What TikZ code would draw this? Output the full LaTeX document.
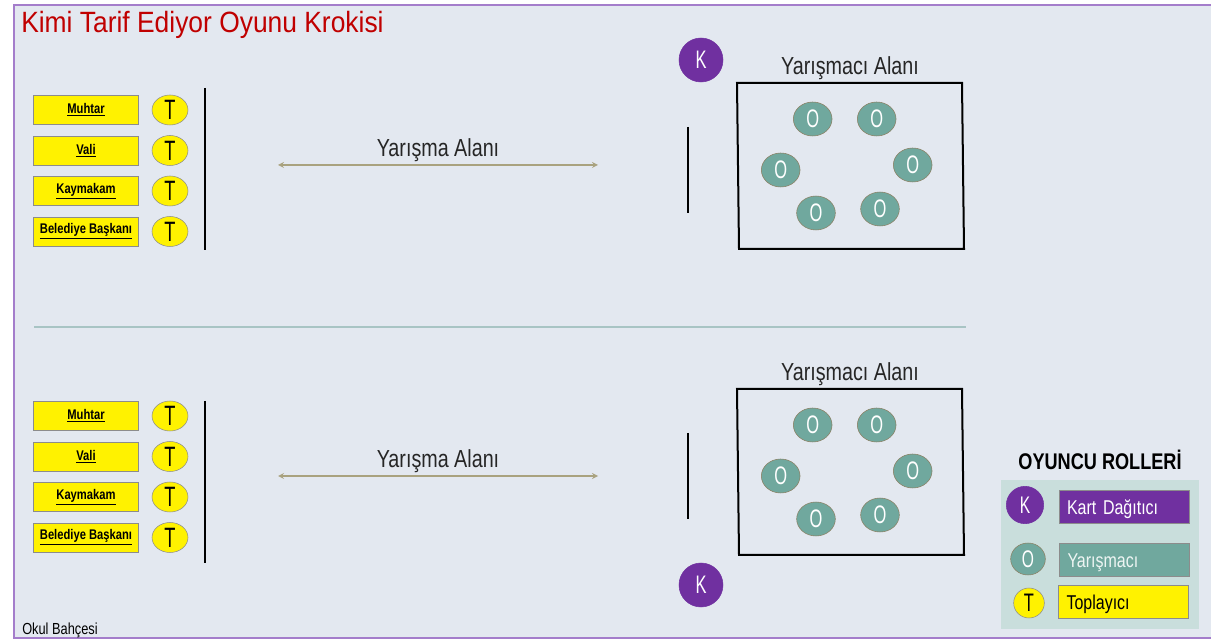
\documentclass[tikz,border=0pt]{standalone}
\usepackage{fontspec}
\setmainfont{Liberation Sans}
\newfontfamily\condfont{Liberation Sans}[FakeStretch=0.8]
\newfontfamily\markfont{Liberation Sans}[FakeStretch=0.65]
\newfontfamily\titlefont{Liberation Sans}[FakeStretch=0.9]
\usetikzlibrary{shapes.geometric}
\definecolor{bgblue}{HTML}{E3E8F0}
\definecolor{framepurple}{HTML}{A47DCB}
\definecolor{titlered}{HTML}{C00000}
\definecolor{kpurple}{HTML}{7030A0}
\definecolor{oteal}{HTML}{70A89E}
\definecolor{oborder}{HTML}{8A7F62}
\definecolor{boxgray}{HTML}{8C8C8C}
\definecolor{arrowtan}{HTML}{A9A27F}
\definecolor{sepline}{HTML}{A8C4C4}
\definecolor{legendbg}{HTML}{C9DEDC}
\definecolor{darktext}{HTML}{262626}

\begin{document}
\begin{tikzpicture}[x=0.75pt,y=-0.75pt]
  \tikzset{%
    role box/.style={draw=boxgray,fill=yellow,inner sep=0pt,
      minimum width=79pt,minimum height=22pt,
      font=\condfont\bfseries\fontsize{10.5}{11}\selectfont},
    t mark/.style={ellipse,draw=boxgray,fill=yellow,inner sep=0pt,
      minimum width=27pt,minimum height=22.5pt,
      font=\markfont\fontsize{21}{21}\selectfont},
    o mark/.style={ellipse,draw=oborder,fill=oteal,text=white,inner sep=0pt,
      minimum width=29pt,minimum height=25.5pt,
      font=\markfont\fontsize{19}{19}\selectfont},
    k mark/.style={circle,draw=kpurple,fill=kpurple,text=white,inner sep=0pt,
      minimum size=33pt,font=\markfont\fontsize{19}{19}\selectfont},
    wall/.style={line width=1.5pt,black},
    area label/.style={anchor=base,inner sep=0pt,text=darktext,
      font=\condfont\fontsize{18.5}{19}\selectfont},
    legend box/.style={draw=boxgray,inner xsep=6pt,inner ysep=0pt,
      text width=85.5pt,text height=12.5pt,text depth=0pt,
      minimum height=24.75pt,align=left,
      font=\condfont\fontsize{15}{16}\selectfont}
  }
  % background and frame
  \useasboundingbox (0,0) rectangle (1211,641);
  \fill[bgblue] (14,5) rectangle (1211,638);
  \draw[framepurple,line width=1.2pt] (1211,5) -- (14,5) -- (14,638) -- (1211,638);

  \node[anchor=base west,inner sep=0pt,text=titlered,
    font=\titlefont\fontsize{22}{23}\selectfont] (title) at (21,33)
    {Kimi Tarif Ediyor Oyunu Krokisi};

  % upper and lower field
  \foreach \off/\tag/\lsh/\ash in {0/a/0/0, 306/b/7/5}{
    \foreach \lbl [count=\i] in {Muhtar,Vali,Kaymakam,Belediye Başkanı}{
      \node[role box] (role-\tag-\i) at (86,{\off+110+40.5*(\i-1)}) {\underline{\lbl}};
      \node[t mark] (tmark-\tag-\i) at (170,{\off+110+40.5*(\i-1)}) {T};
    }
    \coordinate (wallL-top-\tag) at (205,{\off+88+\lsh});
    \coordinate (wallL-bot-\tag) at (205,{\off+250+\lsh});
    \draw[wall] (wallL-top-\tag) -- (wallL-bot-\tag);

    \coordinate (arrL-\tag) at (278,{\off+165+\ash});
    \coordinate (arrR-\tag) at (598,{\off+165+\ash});
    \draw[arrowtan,line width=1pt,<->,>=stealth] (arrL-\tag) -- (arrR-\tag);
    \node[area label] (yarisma-\tag) at (438,{\off+157+\ash}) {Yarışma Alanı};

    \coordinate (wallR-top-\tag) at (688,{\off+127});
    \coordinate (wallR-bot-\tag) at (688,{\off+213});
    \draw[wall] (wallR-top-\tag) -- (wallR-bot-\tag);

    \draw[line width=1.5pt] (737,{\off+83}) -- (962,{\off+83})
      -- (964,{\off+249}) -- (739,{\off+249}) -- cycle;
    \node[area label] (alan-\tag) at (850,{\off+75}) {Yarışmacı Alanı};
    \foreach \px/\py [count=\j] in {812.7/119,876.7/119,780.7/170,912.7/165,816/213,880/209}
      \node[o mark] (oyuncu-\tag-\j) at (\px,{\off+\py}) {O};
  }
  \node[k mark] (dagitici-a) at (701,60) {K};
  \node[k mark] (dagitici-b) at (701,585) {K};

  \coordinate (sepL) at (34,327);
  \coordinate (sepR) at (966,327);
  \draw[sepline,line width=1.5pt] (sepL) -- (sepR);

  % legend
  \fill[legendbg] (1001,480) rectangle (1199,629);
  \node[anchor=base,inner sep=0pt,font=\condfont\bfseries\fontsize{17}{18}\selectfont]
    (legend-title) at (1100,470) {OYUNCU ROLLERİ};
  \node[k mark,minimum size=28pt,font=\markfont\fontsize{18}{18}\selectfont]
    (legend-k) at (1025,505) {K};
  \node[legend box,fill=kpurple,text=white] (legend-kart) at (1124,506.5) {Kart Dağıtıcı};
  \node[o mark,minimum width=26pt,minimum height=24pt,font=\markfont\fontsize{18}{18}\selectfont]
    (legend-o) at (1028,559) {O};
  \node[legend box,fill=oteal,text=white!88!oteal] (legend-yar) at (1124.5,559.5) {Yarışmacı};
  \node[t mark,minimum width=23pt,minimum height=22.5pt,font=\markfont\fontsize{19}{19}\selectfont]
    (legend-t) at (1029,603) {T};
  \node[legend box,fill=yellow,text=black] (legend-top) at (1123.5,601.5) {Toplayıcı};

  \node[anchor=base west,inner sep=0pt,font=\condfont\fontsize{12}{13}\selectfont]
    (okul) at (22,634) {Okul Bahçesi};
\end{tikzpicture}
\end{document}
